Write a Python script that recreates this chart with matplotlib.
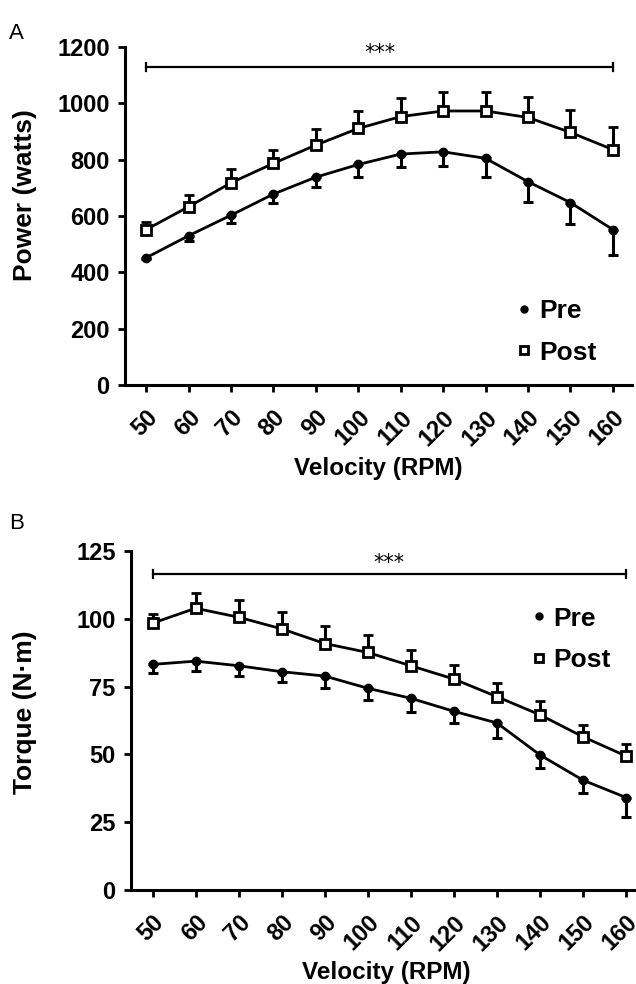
import matplotlib

matplotlib.use("Agg")
import matplotlib.pyplot as plt
from matplotlib.lines import Line2D
import numpy as np

plt.rcParams["font.family"] = ["Liberation Sans", "DejaVu Sans"]
plt.rcParams["font.weight"] = "bold"

velocity = [50, 60, 70, 80, 90, 100, 110, 120, 130, 140, 150, 160]

# Panel A: power (watts); Pre has downward SEM, Post upward SEM
power_pre = [452, 530, 603, 678, 738, 783, 820, 828, 805, 722, 648, 552]
power_pre_err = [5, 20, 26, 32, 36, 45, 47, 51, 65, 71, 75, 91]
power_post = [552, 633, 718, 787, 852, 911, 953, 973, 973, 950, 897, 836]
power_post_err = [28, 41, 48, 47, 56, 62, 65, 69, 69, 71, 79, 79]

# Panel B: torque (N·m)
torque_pre = [83.2, 84.4, 82.7, 80.5, 78.9, 74.4, 70.7, 65.9, 61.6, 49.8, 40.5, 34.1]
torque_pre_err = [3.3, 3.7, 3.8, 3.9, 4.3, 4.3, 4.9, 4.3, 5.5, 4.9, 4.9, 7.0]
torque_post = [98.4, 103.9, 100.6, 96.3, 90.9, 87.6, 82.7, 77.8, 71.3, 64.6, 56.5, 49.4]
torque_post_err = [3.4, 5.6, 6.5, 6.1, 6.3, 6.3, 5.7, 5.1, 4.9, 5.1, 4.5, 4.6]


def draw_panel(ax, pre, pre_err, post, post_err, ylim, yticks, ylabel, sig_y, star_y,
               xmax, leg_anchor, ylab_xy, xlab_xy):
    x = np.array(velocity)
    zeros = np.zeros(len(x))
    ax.errorbar(x, pre, yerr=[pre_err, zeros], fmt="-o", color="black", lw=2,
                ms=6, elinewidth=2.2, capsize=3.5, capthick=2.2, zorder=3)
    ax.errorbar(x, post, yerr=[zeros, post_err], fmt="-s", color="black", lw=2,
                ms=7.5, mfc="white", mew=2, elinewidth=2.2, capsize=3.5, capthick=2.2,
                zorder=4)
    # significance bar with end ticks
    tick = ylim[1] * 0.012
    ax.plot([x[0], x[-1]], [sig_y, sig_y], color="black", lw=1.6)
    ax.plot([x[0], x[0]], [sig_y - tick, sig_y + tick], color="black", lw=1.6)
    ax.plot([x[-1], x[-1]], [sig_y - tick, sig_y + tick], color="black", lw=1.6)
    ax.text((x[0] + x[-1]) / 2, star_y, "***", ha="center", va="center", fontsize=15,
            fontweight="normal", family=["DejaVu Sans"])

    ax.set_xlim(45, xmax)
    ax.set_ylim(*ylim)
    ax.set_yticks(yticks)
    ax.set_xticks(x)
    ax.set_xticklabels([str(v) for v in velocity], rotation=45, ha="right",
                       rotation_mode="anchor")
    ax.tick_params(axis="both", width=2, length=5, direction="out", labelsize=17)
    ax.tick_params(axis="x", pad=10)
    ax.tick_params(axis="y", pad=6)
    for s in ("top", "right"):
        ax.spines[s].set_visible(False)
    for s in ("left", "bottom"):
        ax.spines[s].set_linewidth(2.2)
    ax.set_ylabel(ylabel, fontsize=19, fontweight="bold")
    ax.yaxis.set_label_coords(*ylab_xy)
    ax.yaxis.label.set_va("bottom")
    ax.set_xlabel("Velocity (RPM)", fontsize=17.5, fontweight="bold")
    ax.xaxis.set_label_coords(*xlab_xy)
    ax.xaxis.label.set_va("top")

    handles = [
        Line2D([], [], ls="none", marker="o", color="black", ms=5),
        Line2D([], [], ls="none", marker="s", color="black", mfc="white", mew=2, ms=6),
    ]
    ax.legend(handles, ["Pre", "Post"], loc="center left", bbox_to_anchor=leg_anchor,
              frameon=False, handlelength=0.5, handletextpad=0.3, labelspacing=0.65,
              borderpad=0, borderaxespad=0, prop={"size": 19, "weight": "bold"})


fig = plt.figure(figsize=(6.36, 9.84), dpi=100)

ax_a = fig.add_axes([0.1965, 0.6087, 0.797, 0.3435])
draw_panel(ax_a, power_pre, power_pre_err, power_post, power_post_err,
           (0, 1200), [0, 200, 400, 600, 800, 1000, 1200], "Power (watts)",
           1130, 1180, 164.5, (0.775, 0.157), (-0.174, 0.562), (0.5, -0.213))

ax_b = fig.add_axes([0.206, 0.0955, 0.794, 0.3445])
draw_panel(ax_b, torque_pre, torque_pre_err, torque_post, torque_post_err,
           (0, 125), [0, 25, 50, 75, 100, 125], "Torque (N·m)",
           116.5, 120.5, 162.3, (0.795, 0.74), (-0.186, 0.525), (0.505, -0.21))

fig.text(0.014, 0.966, "A", fontsize=16, fontweight="normal", va="center")
fig.text(0.014, 0.468, "B", fontsize=16, fontweight="normal", va="center")

fig.savefig("out.png", dpi=100)
